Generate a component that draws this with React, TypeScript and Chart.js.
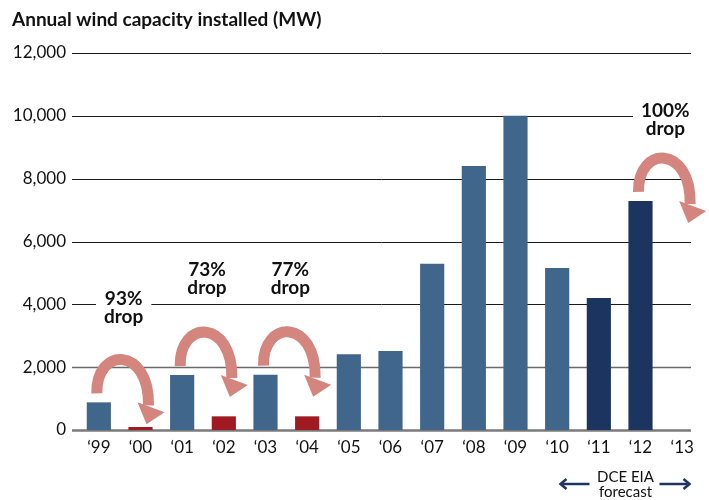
import React, { useEffect, useRef } from "react";
import { Chart, registerables } from "chart.js";

Chart.register(...registerables);

const categories = ["\u201899", "\u201800", "\u201801", "\u201802", "\u201803", "\u201804", "\u201805", "\u201806", "\u201807", "\u201808", "\u201809", "\u201810", "\u201811", "\u201812", "\u201813"];
const capacityMW = [880, 95, 1750, 435, 1760, 435, 2410, 2515, 5290, 8400, 10000, 5160, 4200, 7290, 0];
const barKind = ["actual", "drop", "actual", "drop", "actual", "drop", "actual", "actual", "actual", "actual", "actual", "actual", "forecast", "forecast", "forecast"];
const yTickValues = [0, 2000, 4000, 6000, 8000, 10000, 12000];

const dropFrom = [0, 2, 4, 13];
const dropTo = [1, 3, 5, 14];
const dropPercent = ["93%", "73%", "77%", "100%"];
const dropLabelLevel = [3900, 4800, 4800, 9870];

const TITLE = "Annual wind capacity installed (MW)";
const FORECAST_LINES = ["DCE EIA", "forecast"];

const COLORS: Record<string, string> = {
  actual: "#41668c",
  drop: "#9e1c21",
  forecast: "#1c3560",
};
const ARROW = "#d3857e";
const NAVY = "#1c3560";
const FONT = "Lato";

const overlay = {
  id: "overlay",
  beforeDatasetsDraw(chart: any) {
    const { ctx, chartArea, scales } = chart;
    const y = scales.y;
    ctx.save();
    yTickValues.forEach((v) => {
      const py = Math.round(y.getPixelForValue(v)) + 0.5;
      if (v === 0) {
        ctx.strokeStyle = "#7a7a7a";
        ctx.lineWidth = 2.5;
      } else if (v === 2000) {
        ctx.strokeStyle = "#6a6a6a";
        ctx.lineWidth = 1.5;
      } else {
        ctx.strokeStyle = "#1a1a1a";
        ctx.lineWidth = 1;
      }
      ctx.beginPath();
      ctx.moveTo(chartArea.left - 6, py);
      ctx.lineTo(chartArea.right - 12, py);
      ctx.stroke();
    });
    ctx.restore();
  },
  afterDatasetsDraw(chart: any) {
    const { ctx, scales } = chart;
    const x = scales.x;
    const y = scales.y;
    ctx.save();
    // drop arrows
    dropFrom.forEach((fi, k) => {
      const ti = dropTo[k];
      const xa = x.getPixelForValue(fi) - 2;
      const xb = x.getPixelForValue(ti) + 8;
      const yt = y.getPixelForValue(capacityMW[fi]) - 9;
      ctx.strokeStyle = ARROW;
      ctx.fillStyle = ARROW;
      ctx.lineWidth = 11;
      ctx.lineCap = "butt";
      ctx.beginPath();
      ctx.moveTo(xa, yt);
      ctx.bezierCurveTo(xa - 1, yt - 47, xb + 1, yt - 47, xb, yt + 12);
      ctx.stroke();
      ctx.beginPath();
      ctx.moveTo(xb - 11, yt + 9);
      ctx.lineTo(xb + 16, yt + 19);
      ctx.lineTo(xb - 2, yt + 31);
      ctx.closePath();
      ctx.fill();

      // label
      const cx = (x.getPixelForValue(fi) + x.getPixelForValue(ti)) / 2 + 4;
      const cy = y.getPixelForValue(dropLabelLevel[k]);
      ctx.font = `bold 19px ${FONT}`;
      const lines = [dropPercent[k], "drop"];
      const w = Math.max(...lines.map((l) => ctx.measureText(l).width));
      ctx.fillStyle = "#ffffff";
      ctx.fillRect(cx - w / 2 - 8, cy - 22, w + 16, 42);
      ctx.fillStyle = "#111111";
      ctx.textAlign = "center";
      ctx.textBaseline = "middle";
      ctx.fillText(lines[0], cx, cy - 9);
      ctx.fillText(lines[1], cx, cy + 9);
    });

    // forecast annotation
    const fc = (x.getPixelForValue(12) + x.getPixelForValue(14)) / 2 - 15;
    ctx.font = `15px ${FONT}`;
    ctx.fillStyle = "#111111";
    ctx.textAlign = "center";
    ctx.textBaseline = "middle";
    ctx.fillText(FORECAST_LINES[0], fc, 477);
    ctx.fillText(FORECAST_LINES[1], fc, 492);
    ctx.strokeStyle = NAVY;
    ctx.fillStyle = NAVY;
    ctx.lineWidth = 2.5;
    const ay = 484;
    // left arrow
    ctx.beginPath();
    ctx.moveTo(fc - 36, ay);
    ctx.lineTo(fc - 63, ay);
    ctx.stroke();
    ctx.beginPath();
    ctx.moveTo(fc - 59, ay - 5);
    ctx.lineTo(fc - 65, ay);
    ctx.lineTo(fc - 59, ay + 5);
    ctx.stroke();
    // right arrow
    ctx.beginPath();
    ctx.moveTo(fc + 34, ay);
    ctx.lineTo(fc + 62, ay);
    ctx.stroke();
    ctx.beginPath();
    ctx.moveTo(fc + 58, ay - 5);
    ctx.lineTo(fc + 64, ay);
    ctx.lineTo(fc + 58, ay + 5);
    ctx.stroke();

    // title
    ctx.font = `bold 19px ${FONT}`;
    ctx.fillStyle = "#111111";
    ctx.textAlign = "left";
    ctx.textBaseline = "alphabetic";
    ctx.fillText(TITLE, 12, 26);
    ctx.restore();
  },
};

export default function App() {
  const ref = useRef<HTMLCanvasElement | null>(null);
  useEffect(() => {
    if (!ref.current) return;
    const chart = new Chart(ref.current, {
      type: "bar",
      data: {
        labels: categories,
        datasets: [
          {
            data: capacityMW,
            backgroundColor: barKind.map((k) => COLORS[k]),
            barPercentage: 0.58,
            categoryPercentage: 1,
            borderWidth: 0,
          },
        ],
      },
      options: {
        responsive: false,
        maintainAspectRatio: false,
        animation: false,
        layout: { padding: { left: 0, right: 6, top: 53, bottom: 0 } },
        plugins: { legend: { display: false }, tooltip: { enabled: false }, title: { display: false } },
        scales: {
          x: {
            grid: { display: false, drawTicks: false },
            border: { display: false },
            ticks: { font: { family: FONT, size: 17 }, color: "#111111", padding: 7, maxRotation: 0, autoSkip: false },
            afterFit: (s: any) => {
              s.height = 70;
            },
          },
          y: {
            min: 0,
            max: 12000,
            grid: { display: false, drawTicks: false },
            border: { display: false },
            ticks: {
              stepSize: 2000,
              padding: 12,
              font: { family: FONT, size: 17 },
              color: "#111111",
              callback: (v: any) => Number(v).toLocaleString("en-US"),
            },
            afterFit: (s: any) => {
              s.width = 78;
            },
          },
        },
      },
      plugins: [overlay],
    });
    return () => chart.destroy();
  }, []);
  return (
    <div style={{ position: "fixed", left: 0, top: 0, width: 709, height: 500, background: "#fff" }}>
      <canvas ref={ref} width={709} height={500} style={{ display: "block", width: 709, height: 500 }} />
    </div>
  );
}
